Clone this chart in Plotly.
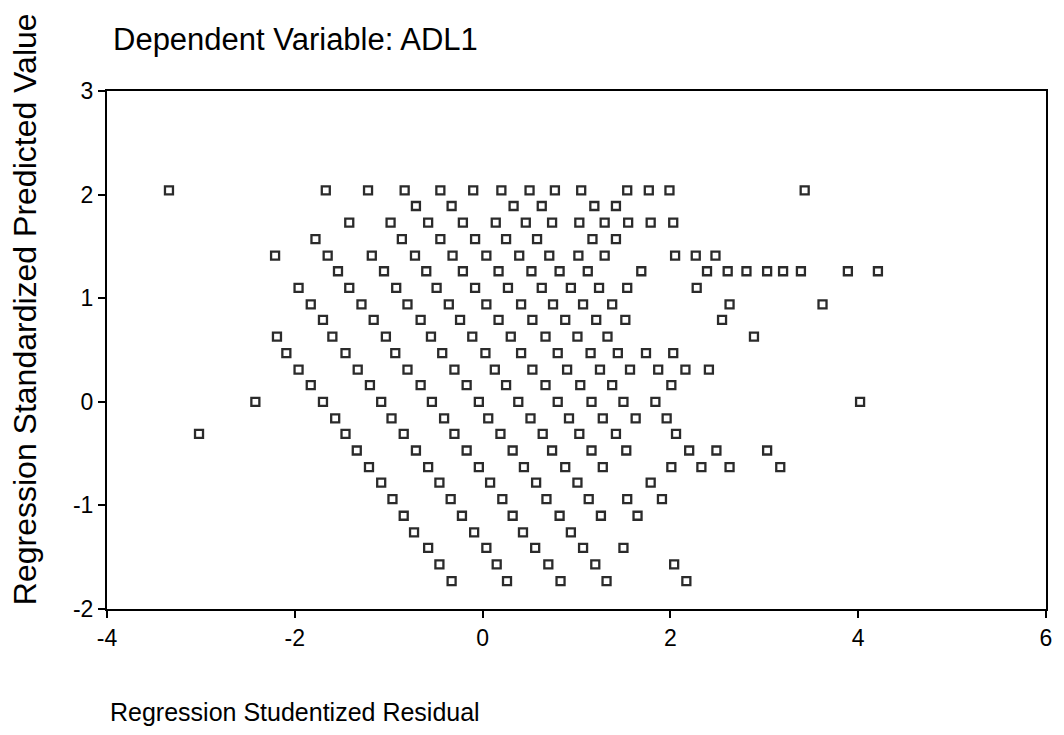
import plotly.graph_objects as go

# Standardized predicted value levels (rows of the scatter)
predicted_levels = [2.04, 1.89, 1.73, 1.57, 1.41, 1.26, 1.10, 0.94, 0.79, 0.63, 0.47, 0.31, 0.16,
                    0.00, -0.16, -0.31, -0.47, -0.63, -0.78, -0.94, -1.10, -1.26, -1.41, -1.57, -1.73]

# Studentized residuals observed at each predicted level
residuals_by_level = [
    [-3.34, -1.67, -1.22, -0.83, -0.45, -0.10, 0.20, 0.50, 0.77, 1.05, 1.54, 1.77, 1.99, 3.43],
    [-0.71, -0.33, 0.33, 0.63, 1.19, 1.42],
    [-1.42, -0.98, -0.58, -0.21, 0.14, 0.46, 0.74, 1.03, 1.30, 1.55, 1.79, 2.03],
    [-1.78, -0.86, -0.45, -0.08, 0.25, 0.58, 1.17, 1.42],
    [-2.21, -1.65, -1.18, -0.72, -0.32, 0.04, 0.39, 0.71, 1.02, 1.30, 2.05, 2.27, 2.48],
    [-1.54, -1.05, -0.60, -0.21, 0.17, 0.52, 0.82, 1.12, 1.69, 2.39, 2.61, 2.81, 3.03, 3.20, 3.39, 3.89, 4.21],
    [-1.96, -1.42, -0.92, -0.49, -0.08, 0.27, 0.63, 0.94, 1.24, 1.54, 2.28],
    [-1.83, -1.29, -0.80, -0.36, 0.04, 0.41, 0.75, 1.07, 1.38, 2.63, 3.62],
    [-1.70, -1.16, -0.66, -0.24, 0.17, 0.53, 0.88, 1.21, 1.52, 2.55],
    [-2.19, -1.60, -1.03, -0.55, -0.11, 0.30, 0.67, 1.01, 1.33, 2.89],
    [-2.09, -1.46, -0.93, -0.43, 0.03, 0.41, 0.80, 1.15, 1.44, 1.74, 2.03],
    [-1.96, -1.33, -0.80, -0.30, 0.13, 0.53, 0.90, 1.25, 1.57, 1.87, 2.16, 2.41],
    [-1.83, -1.20, -0.66, -0.17, 0.25, 0.67, 1.04, 1.38, 2.01],
    [-2.42, -1.70, -1.08, -0.54, -0.04, 0.38, 0.80, 1.16, 1.50, 1.84, 4.02],
    [-1.57, -0.97, -0.41, 0.06, 0.51, 0.92, 1.28, 1.63, 1.96],
    [-3.02, -1.46, -0.84, -0.30, 0.19, 0.64, 1.03, 1.42, 2.06],
    [-1.34, -0.71, -0.17, 0.32, 0.74, 1.16, 1.53, 2.20, 2.49, 3.03],
    [-1.21, -0.58, -0.04, 0.44, 0.88, 1.28, 2.01, 2.33, 2.63, 3.17],
    [-1.08, -0.46, 0.08, 0.57, 1.01, 1.79],
    [-0.96, -0.34, 0.21, 0.68, 1.13, 1.54, 1.91],
    [-0.84, -0.22, 0.32, 0.82, 1.26, 1.65],
    [-0.73, -0.09, 0.43, 0.94],
    [-0.58, 0.04, 0.56, 1.07, 1.50],
    [-0.46, 0.15, 0.70, 1.20, 2.04],
    [-0.33, 0.26, 0.83, 1.32, 2.17],
]

x_ticks = [-4, -2, 0, 2, 4, 6]
y_ticks = [-2, -1, 0, 1, 2, 3]

title_text = "Dependent Variable: ADL1"
x_title = "Regression Studentized Residual"
y_title = "Regression Standardized Predicted Value"

xs, ys = [], []
for lvl, row in zip(predicted_levels, residuals_by_level):
    for r in row:
        xs.append(r)
        ys.append(lvl)

FONT = "Liberation Sans, Arial, Helvetica, sans-serif"

fig = go.Figure()
fig.add_trace(go.Scatter(
    x=xs, y=ys, mode="markers",
    marker=dict(symbol="square-open", size=8, color="#2b2b2b",
                line=dict(width=2.3, color="#2b2b2b")),
    showlegend=False, hoverinfo="x+y",
))

W, H = 1064, 735
L, R, T, B = 107, 16, 91, 126

fig.update_layout(
    width=W, height=H,
    margin=dict(l=L, r=R, t=T, b=B, pad=0),
    paper_bgcolor="white", plot_bgcolor="white",
    font=dict(family=FONT, color="black"),
    title=dict(text=title_text, font=dict(size=31, color="black", family=FONT),
               x=113 / W, xanchor="left", xref="container",
               y=1 - 39 / H, yanchor="middle", yref="container"),
    xaxis=dict(range=[-4, 6], tickvals=x_ticks, ticktext=[str(v) for v in x_ticks],
               showgrid=False, zeroline=False, showline=True, linecolor="black",
               linewidth=2, mirror=True, ticks="outside", ticklen=7, tickwidth=1.5,
               tickcolor="black", tickfont=dict(size=23, color="black", family=FONT)),
    yaxis=dict(range=[-2, 3], tickvals=y_ticks, ticktext=[str(v) for v in y_ticks],
               showgrid=False, zeroline=False, showline=True, linecolor="black",
               linewidth=2, mirror=True, ticks="outside", ticklen=7, tickwidth=1.5,
               tickcolor="black", tickfont=dict(size=23, color="black", family=FONT)),
)

pw = W - L - R
ph = H - T - B
fig.add_annotation(text=x_title, xref="paper", yref="paper",
                   x=(108 - L) / pw, y=-(712 - (T + ph)) / ph,
                   xanchor="left", yanchor="middle", showarrow=False,
                   font=dict(size=25, color="black", family=FONT))
fig.add_annotation(text=y_title, xref="paper", yref="paper",
                   x=(25 - L) / pw, y=((T + ph) - 309) / ph,
                   xanchor="center", yanchor="middle", textangle=-90, showarrow=False,
                   font=dict(size=32, color="black", family=FONT))

fig.write_html("out.html")
